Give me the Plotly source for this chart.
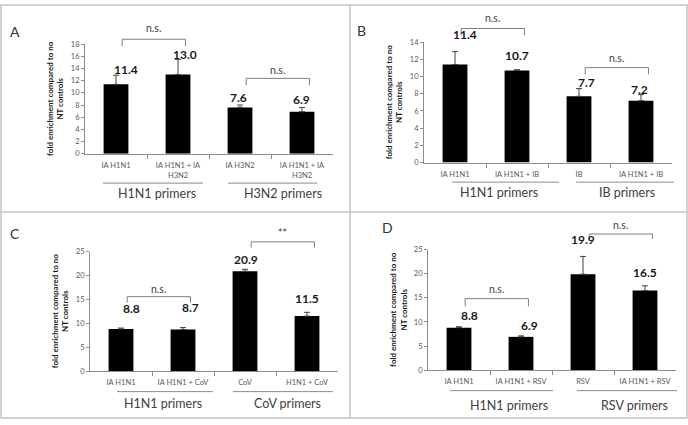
import plotly.graph_objects as go

W, H = 688, 425

# ---------------- data ----------------
cats_A = ["IA H1N1", "IA H1N1 + IA<br>H3N2", "IA H3N2", "IA H1N1 + IA<br>H3N2"]
vals_A = [11.4, 13.0, 7.6, 6.9]
err_A = [1.5, 2.5, 0.4, 0.7]
groups_A = ["H1N1 primers", "H3N2 primers"]
sig_A = ["n.s.", "n.s."]

cats_B = ["IA H1N1", "IA H1N1 + IB", "IB", "IA H1N1 + IB"]
vals_B = [11.4, 10.7, 7.7, 7.2]
err_B = [1.5, 0.1, 0.9, 0.7]
groups_B = ["H1N1 primers", "IB primers"]
sig_B = ["n.s.", "n.s."]

cats_C = ["IA H1N1", "IA H1N1 + CoV", "CoV", "H1N1 + CoV"]
vals_C = [8.8, 8.7, 20.9, 11.5]
err_C = [0.2, 0.4, 0.4, 0.8]
groups_C = ["H1N1 primers", "CoV primers"]
sig_C = ["n.s.", "**"]

cats_D = ["IA H1N1", "IA H1N1 + RSV", "RSV", "IA H1N1 + RSV"]
vals_D = [8.8, 6.9, 19.9, 16.5]
err_D = [0.2, 0.2, 3.7, 1.0]
groups_D = ["H1N1 primers", "RSV primers"]
sig_D = ["n.s.", "n.s."]

ytitle = "fold enrichment compared to no<br>NT controls"

# ---------------- layout / style (pixels) ----------------
panels = [
    dict(letter="A", cats=cats_A, vals=vals_A, err=err_A, groups=groups_A, sig=sig_A,
         letter_xy=(15, 28), xdom=(85, 333), ydom=(41, 153), ymax=18, dtick=2,
         lab_dx=[10, 7, -2, -1], lab_dy=[6, 5, 8, 8], ytitle_x=55,
         brackets=[(36, 43, 25), (76, 83, 67)],
         glines=[(103, 203), (228, 317)], gline_y=183, glab_x=[157, 283], glab_y=194),
    dict(letter="B", cats=cats_B, vals=vals_B, err=err_B, groups=groups_B, sig=sig_B,
         letter_xy=(361, 27), xdom=(424, 672), ydom=(39, 162), ymax=14, dtick=2,
         lab_dx=[10, 0, 7, -2], lab_dy=[17, 14, 6, 5], ytitle_x=394,
         brackets=[(25, 32, 14), (65, 72, 55)],
         glines=[(452, 559), (576, 674)], gline_y=182, glab_x=[499, 627], glab_y=193),
    dict(letter="C", cats=cats_C, vals=vals_C, err=err_C, groups=groups_C, sig=sig_C,
         letter_xy=(15, 234), xdom=(90, 338), ydom=(253, 375), ymax=25, dtick=5,
         lab_dx=[10, 7, 1, 0], lab_dy=[20, 20, 10, 14], ytitle_x=60,
         brackets=[(299, 305, 291), (243, 249, 234)],
         glines=[(117, 213), (233, 333)], gline_y=396, glab_x=[163, 287], glab_y=408),
    dict(letter="D", cats=cats_D, vals=vals_D, err=err_D, groups=groups_D, sig=sig_D,
         letter_xy=(387, 228), xdom=(428, 676), ydom=(251, 374), ymax=25, dtick=5,
         lab_dx=[10, 8, 0, 0], lab_dy=[11, 10, 17, 13], ytitle_x=398,
         brackets=[(301, 309, 291), (235, 240, 226)],
         glines=[(450, 553), (577, 677)], gline_y=395, glab_x=[509, 634], glab_y=410),
]

FONT = "Lato"
TXT = "#404040"
TICK = "#595959"
AXIS = "#8c8c8c"


def px(x):
    return x / W


def py(y):
    return 1 - y / H


fig = go.Figure()
shapes = []
annotations = []

for i, p in enumerate(panels):
    n = i + 1
    xa = "x" if n == 1 else f"x{n}"
    ya = "y" if n == 1 else f"y{n}"
    xk = "xaxis" if n == 1 else f"xaxis{n}"
    yk = "yaxis" if n == 1 else f"yaxis{n}"
    idx = list(range(len(p["cats"])))

    fig.add_trace(go.Bar(
        x=idx, y=p["vals"], xaxis=xa, yaxis=ya, width=0.4,
        marker=dict(color="black", line=dict(width=0)),
        error_y=dict(type="data", array=p["err"], arrayminus=[0] * len(idx),
                     symmetric=False, color="#404040", thickness=1, width=3),
        showlegend=False, hoverinfo="skip"))

    fig.layout[xk] = dict(
        domain=[px(p["xdom"][0]), px(p["xdom"][1])], range=[-0.5, 3.5],
        anchor=ya, showgrid=False, zeroline=False, showline=True,
        linecolor=AXIS, linewidth=1, tickvals=idx, ticktext=p["cats"],
        ticks="outside", ticklen=4, tickcolor="rgba(0,0,0,0)",
        tickfont=dict(family=FONT, size=7.5, color=TICK), tickangle=0,
        minor=dict(tickvals=[0.5, 1.5, 2.5], ticks="outside", ticklen=4,
                   tickcolor=AXIS, showgrid=False),
        fixedrange=True)
    fig.layout[yk] = dict(
        domain=[py(p["ydom"][1]), py(p["ydom"][0])], range=[0, p["ymax"]],
        anchor=xa, showgrid=False, zeroline=False, showline=True,
        linecolor=AXIS, linewidth=1, tick0=0, dtick=p["dtick"],
        ticks="outside", ticklen=3, tickcolor=AXIS,
        tickfont=dict(family=FONT, size=7.5, color=TICK), fixedrange=True)

    # value labels
    for k in idx:
        annotations.append(dict(
            x=k, y=p["vals"][k] + p["err"][k], xref=xa, yref=ya,
            text=f"<b>{p['vals'][k]:.1f}</b>", showarrow=False,
            xshift=p["lab_dx"][k], yshift=p["lab_dy"][k],
            xanchor="center", yanchor="middle",
            font=dict(family=FONT, size=12, color="#1a1a1a")))

    # significance brackets
    for (a, b), (ly, by, ty), s in zip([(0, 1), (2, 3)], p["brackets"], p["sig"]):
        x0, x1 = a + 0.1, b + 0.12
        for (xa0, ya0, xa1, ya1) in [(x0, ly, x1, ly), (x0, ly, x0, by), (x1, ly, x1, by)]:
            shapes.append(dict(type="line", xref=xa, yref="paper",
                               x0=xa0, x1=xa1, y0=py(ya0), y1=py(ya1),
                               line=dict(color="#7f7f7f", width=1)))
        annotations.append(dict(x=(x0 + x1) / 2, y=py(ty), xref=xa, yref="paper",
                                text=s, showarrow=False, xanchor="center", yanchor="middle",
                                font=dict(family=FONT, size=10.5, color=TXT)))

    # group lines + labels
    for (g0, g1), gx, g in zip(p["glines"], p["glab_x"], p["groups"]):
        shapes.append(dict(type="line", xref="paper", yref="paper",
                           x0=px(g0), x1=px(g1), y0=py(p["gline_y"]), y1=py(p["gline_y"]),
                           line=dict(color="#8c8c8c", width=1)))
        annotations.append(dict(x=px(gx), y=py(p["glab_y"]), xref="paper", yref="paper",
                                text=g, showarrow=False, xanchor="center", yanchor="middle",
                                font=dict(family=FONT, size=12.5, color=TXT)))

    # y-axis title
    annotations.append(dict(x=px(p["ytitle_x"]), y=py((p["ydom"][0] + p["ydom"][1]) / 2),
                            xref="paper", yref="paper", text=f"<b>{ytitle}</b>",
                            textangle=-90, showarrow=False, xanchor="center", yanchor="middle",
                            font=dict(family=FONT, size=8, color="#1a1a1a")))

    # panel letter
    annotations.append(dict(x=px(p["letter_xy"][0]), y=py(p["letter_xy"][1]),
                            xref="paper", yref="paper", text=p["letter"], showarrow=False,
                            xanchor="center", yanchor="middle",
                            font=dict(family=FONT, size=14, color="#333333")))

# panel borders
BORDER = "#c4c4c4"
shapes.append(dict(type="rect", xref="paper", yref="paper", x0=px(1), x1=px(687),
                   y0=py(423), y1=py(1), line=dict(color=BORDER, width=1.5)))
shapes.append(dict(type="line", xref="paper", yref="paper", x0=px(350), x1=px(350),
                   y0=py(423), y1=py(1), line=dict(color=BORDER, width=1.5)))
shapes.append(dict(type="line", xref="paper", yref="paper", x0=px(1), x1=px(687),
                   y0=py(212.5), y1=py(212.5), line=dict(color=BORDER, width=1.5)))

fig.update_layout(
    width=W, height=H, margin=dict(l=0, r=0, t=0, b=0),
    paper_bgcolor="white", plot_bgcolor="white",
    shapes=shapes, annotations=annotations, showlegend=False,
    font=dict(family=FONT, color=TXT),
)

fig.write_html("out.html", config={"displayModeBar": False},
               post_script="document.body.style.margin='0px';document.body.style.overflow='hidden';")
